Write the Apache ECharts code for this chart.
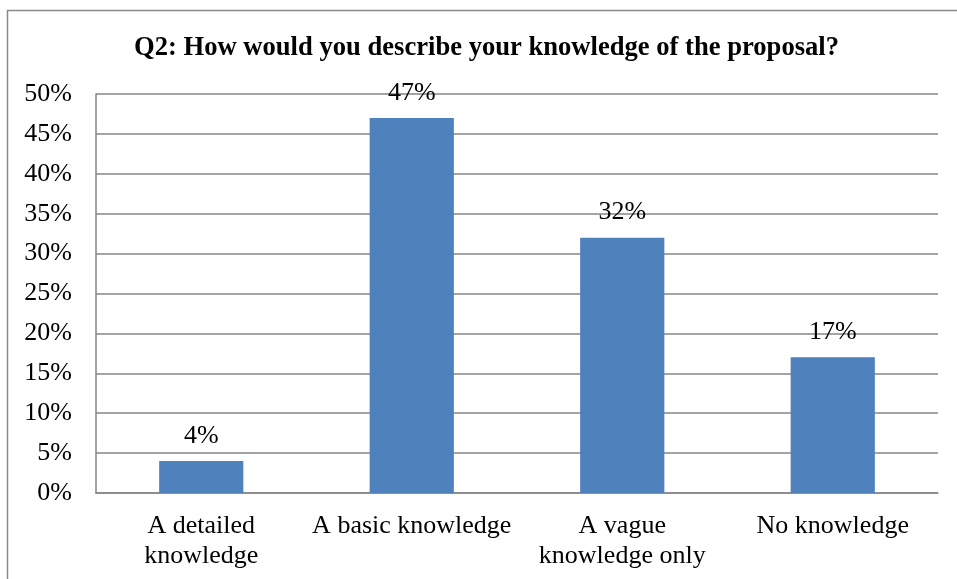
<!DOCTYPE html>
<html><head><meta charset="utf-8">
<script src="https://cdn.jsdelivr.net/npm/echarts@6/dist/echarts.min.js"></script>
<style>html,body{margin:0;padding:0;background:#fff}#c{width:957px;height:579px}</style>
</head><body><div id="c"></div>
<script>
const categories = ['A detailed\nknowledge', 'A basic knowledge', 'A vague\nknowledge only', 'No knowledge'];
const values = [4, 47, 32, 17];
const yTicks = [0, 5, 10, 15, 20, 25, 30, 35, 40, 45, 50];
const titleText = 'Q2: How would you describe your knowledge of the proposal?';

const chart = echarts.init(document.getElementById('c'), null, {renderer: 'canvas'});
const serif = '"Liberation Serif", "Times New Roman", serif';
chart.setOption({
  animation: false,
  backgroundColor: '#fff',
  title: {
    text: titleText, left: 129, top: 30,
    textStyle: {fontFamily: serif, fontSize: 26.6, fontWeight: 'bold', color: '#000'}
  },
  graphic: [{
    type: 'rect', shape: {x: 7.5, y: 10.5, width: 980, height: 600},
    style: {fill: 'none', stroke: '#8a8a8a', lineWidth: 1.5}, silent: true, z: 100
  }],
  grid: {left: 96, right: 19, top: 94, bottom: 86, containLabel: false},
  xAxis: {
    type: 'category', data: categories,
    axisLine: {show: true, lineStyle: {color: '#868686', width: 1.5}},
    axisTick: {show: false},
    axisLabel: {fontFamily: serif, fontSize: 26, color: '#000', margin: 18, lineHeight: 30, interval: 0}
  },
  yAxis: {
    type: 'value', min: yTicks[0], max: yTicks[yTicks.length - 1], interval: 5,
    axisLine: {show: true, lineStyle: {color: '#868686', width: 1.5}},
    axisTick: {show: false},
    splitLine: {show: true, lineStyle: {color: '#868686', width: 1.5}},
    axisLabel: {fontFamily: serif, fontSize: 26, color: '#000', margin: 24, formatter: v => v + '%'}
  },
  series: [{
    type: 'bar', data: values, barWidth: '40%',
    itemStyle: {color: '#4F81BD'},
    label: {show: true, position: 'top', distance: 12, formatter: p => p.value + '%',
      fontFamily: serif, fontSize: 26, color: '#000'}
  }]
});
</script></body></html>
